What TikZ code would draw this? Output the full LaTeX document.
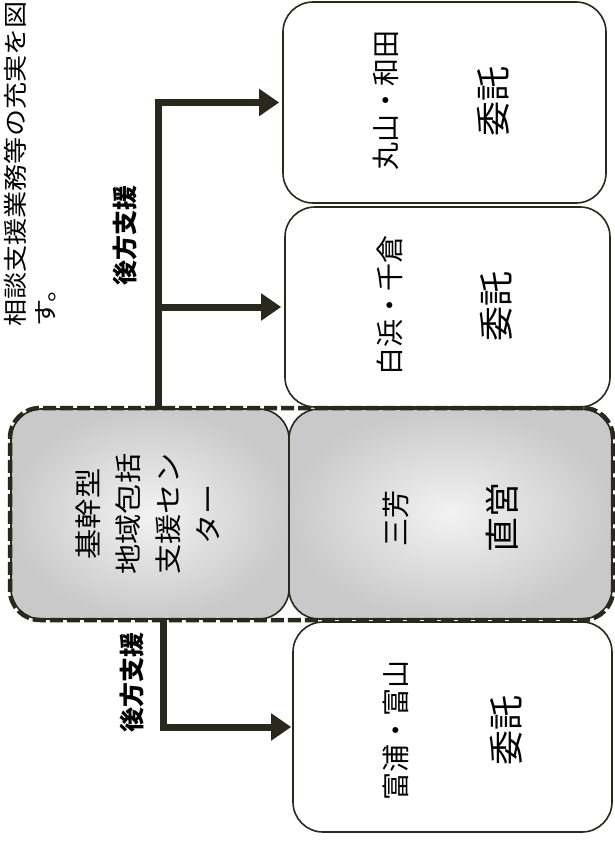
\documentclass[tikz,border=0pt]{standalone}
\usepackage{fontspec}
\usepackage{graphicx}
\setmainfont{Noto Sans CJK JP}
\usetikzlibrary{arrows.meta}
\definecolor{ink}{RGB}{40,40,28}
\newcommand{\strc}[1]{\scalebox{1.12}[1]{#1}}
\begin{document}
\begin{tikzpicture}[x=1pt,y=-1pt,
  wbox/.style={draw=ink, line width=1.6pt, rounded corners=30pt, fill=white, inner sep=0pt},
  gbox/.style={draw=ink, line width=1.6pt, rounded corners=30pt, inner color=black!5, outer color=black!21, inner sep=0pt},
  grp/.style={draw=ink, line width=4.5pt, dash pattern=on 13pt off 4pt, rounded corners=30pt, inner sep=0pt},
  conn/.style={draw=ink, line width=7pt, -{Triangle[length=20pt,width=26pt]}},
  lbl/.style={rotate=90, font=\fontsize{25}{25}\selectfont\bfseries, inner sep=0pt},
  place/.style={rotate=90, font=\fontsize{28}{28}\selectfont, inner sep=0pt},
  kind/.style={rotate=90, font=\fontsize{35}{35}\selectfont, inner sep=0pt},
  para/.style={rotate=90, anchor=west, font=\fontsize{24}{24}\selectfont, inner sep=0pt}]
\useasboundingbox (0,0) rectangle (615,847);

% paragraph
\node[para] (p1) at (15,327) {\scalebox{1.13}[1]{相談支援業務等の充実を図}};
\node[para] (p2) at (46,327) {\scalebox{1.13}[1]{す。}};

% white boxes
\node[wbox, minimum width=323pt, minimum height=201pt] (A) at (444.5,102.5) {};
\node[wbox, minimum width=325pt, minimum height=200pt] (B) at (447.5,307) {};
\node[wbox, minimum width=319pt, minimum height=210pt] (E) at (452.5,727) {};

% gray boxes
\node[gbox, minimum width=278pt, minimum height=210pt] (C) at (150,514) {};
\node[gbox, minimum width=323pt, minimum height=210pt] (D) at (450.5,514) {};
\node[grp, minimum width=603pt, minimum height=212pt] (G) at (311.5,514) {};

% texts
\node[place] (a1) at (386,100) {丸山・和田};
\node[kind] (a2) at (493,101) {委託};
\node[place] (b1) at (390,305) {白浜・千倉};
\node[kind] (b2) at (496,306) {委託};
\node[place] (d1) at (396,518) {三芳};
\node[kind] (d2) at (502,517) {直営};
\node[place] (e1) at (396,730) {富浦・富山};
\node[kind] (e2) at (506,730) {委託};
\node[rotate=90, align=center, font=\fontsize{27}{40}\selectfont, inner sep=0pt] (c1) at (148,514)
  {\strc{基幹型}\\\strc{地域包括}\\\strc{支援セン}\\\strc{ター}};

% connectors
\coordinate (t0) at (158,408);
\coordinate (b0) at (163,620);
\draw[conn, shorten >=3pt] (t0) |- (A.west);
\draw[conn, shorten >=3pt] (t0 |- B.west) -- (B.west);
\draw[conn, shorten >=1pt] (b0) |- (E.west);

\node[lbl] (L1) at (125,235) {後方支援};
\node[lbl] (L2) at (132,682) {後方支援};
\end{tikzpicture}
\end{document}
